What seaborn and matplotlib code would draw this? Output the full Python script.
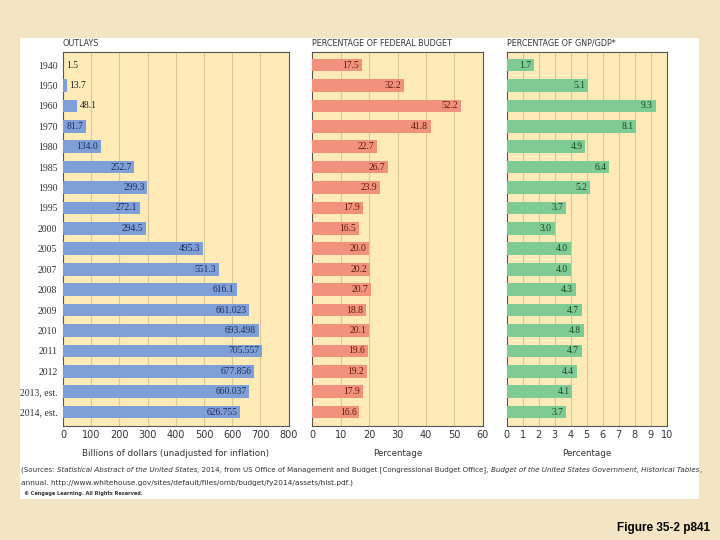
import matplotlib
matplotlib.use("Agg")
import matplotlib.pyplot as plt
import numpy as np
import pandas as pd
import seaborn as sns

years = ["1940", "1950", "1960", "1970", "1980", "1985", "1990", "1995", "2000",
         "2005", "2007", "2008", "2009", "2010", "2011", "2012", "2013, est.", "2014, est."]
outlays = [1.5, 13.7, 48.1, 81.7, 134.0, 252.7, 299.3, 272.1, 294.5,
           495.3, 551.3, 616.1, 661.023, 693.498, 705.557, 677.856, 660.037, 626.755]
outlay_labels = ["1.5", "13.7", "48.1", "81.7", "134.0", "252.7", "299.3", "272.1", "294.5",
                 "495.3", "551.3", "616.1", "661.023", "693.498", "705.557", "677.856", "660.037", "626.755"]
pct_budget = [17.5, 32.2, 52.2, 41.8, 22.7, 26.7, 23.9, 17.9, 16.5,
              20.0, 20.2, 20.7, 18.8, 20.1, 19.6, 19.2, 17.9, 16.6]
pct_gdp = [1.7, 5.1, 9.3, 8.1, 4.9, 6.4, 5.2, 3.7, 3.0,
           4.0, 4.0, 4.3, 4.7, 4.8, 4.7, 4.4, 4.1, 3.7]

df = pd.DataFrame({"year": years, "outlays": outlays,
                   "budget": pct_budget, "gdp": pct_gdp})

sns.set_style("white")
plt.rcParams["font.family"] = ["DejaVu Sans"]

BG = "#F3E4C4"
PANEL = "#FFEBB7"
GRID = "#D9C79C"

fig = plt.figure(figsize=(7.2, 5.4), dpi=100)
fig.patch.set_facecolor(BG)

# white card behind the charts
card = plt.Rectangle((20 / 720, 1 - 499 / 540), 679 / 720, 461 / 540,
                     transform=fig.transFigure, facecolor="white", edgecolor="none", zorder=-5)
fig.patches.append(card)

bottom, height = 114 / 540, 374 / 540
ax1 = fig.add_axes([63 / 720, bottom, 225.7 / 720, height])
ax2 = fig.add_axes([312.3 / 720, bottom, 170.4 / 720, height])
ax3 = fig.add_axes([506.7 / 720, bottom, 160 / 720, height])

panels = [
    (ax1, "outlays", outlay_labels, "#7F9FD8", "#1E2D58", 800, 100, "OUTLAYS",
     "Billions of dollars (unadjusted for inflation)", 60),
    (ax2, "budget", [f"{v:.1f}" for v in pct_budget], "#F2927C", "#5A1A0E", 60, 10,
     "PERCENTAGE OF FEDERAL BUDGET", "Percentage", 0),
    (ax3, "gdp", [f"{v:.1f}" for v in pct_gdp], "#7FCB96", "#1C4426", 10, 1,
     "PERCENTAGE OF GNP/GDP*", "Percentage", 0),
]

for ax, col, labels, color, tcol, xmax, step, title, xlabel, inside_min in panels:
    ax.set_facecolor(PANEL)
    sns.barplot(data=df, y="year", x=col, color=color, orient="h", width=0.62,
                saturation=1, ax=ax, zorder=3, edgecolor="none", linewidth=0)
    ax.set_xlim(0, xmax)
    ax.set_ylim(17.68, -0.64)
    ax.set_xticks(np.arange(0, xmax + step / 2, step))
    for gx in np.arange(step, xmax, step):
        ax.axvline(gx, color=GRID, lw=0.8, zorder=1)
    for sp in ax.spines.values():
        sp.set_color("#555555")
        sp.set_linewidth(0.8)
    ax.tick_params(axis="x", length=0, labelsize=7, colors="#333333", pad=3)
    ax.tick_params(axis="y", length=2, labelsize=7, colors="#333333", pad=2)
    ax.set_xlabel(xlabel, fontsize=6.3, color="#333333", labelpad=6)
    ax.set_ylabel("")
    ax.text(0, 1.012, title, transform=ax.transAxes, fontsize=5.8,
            color="#333333", ha="left", va="bottom")
    values = df[col].tolist()
    for i, (v, lab) in enumerate(zip(values, labels)):
        if v > inside_min:
            ax.annotate(lab, (v, i), xytext=(-2, 0), textcoords="offset points",
                        ha="right", va="center", fontsize=6.9, color=tcol,
                        family="Liberation Serif", zorder=4)
        else:
            ax.annotate(lab, (v, i), xytext=(2, 0), textcoords="offset points",
                        ha="left", va="center", fontsize=6.9, color="#222222",
                        family="Liberation Serif", zorder=4)

for lab in ax1.get_yticklabels():
    lab.set_family("Liberation Serif")
ax2.set_yticklabels([])
ax3.set_yticklabels([])
ax2.tick_params(axis="y", length=0)
ax3.tick_params(axis="y", length=0)

# source note, italic for publication titles
src_line1 = [
    ("(Sources: ", "normal"),
    ("Statistical Abstract of the United States", "italic"),
    (", 2014, from US Office of Management and Budget [Congressional Budget Office], ", "normal"),
    ("Budget of the United States Government, Historical Tables", "italic"),
    (",", "normal"),
]
fs = 5.1
t = fig.text(21 / 720, 1 - 473 / 540, src_line1[0][0], fontsize=fs,
             style=src_line1[0][1], color="#333333", va="bottom")
for txt, st in src_line1[1:]:
    t = ax1.annotate(txt, xy=(1, 0), xycoords=t, fontsize=fs, style=st,
                     color="#333333", va="bottom", ha="left", annotation_clip=False)
fig.text(21 / 720, 1 - 486 / 540,
         "annual. http://www.whitehouse.gov/sites/default/files/omb/budget/fy2014/assets/hist.pdf.)",
         fontsize=fs + 0.2, color="#333333", va="bottom")
fig.text(24 / 720, 1 - 495 / 540, "© Cengage Learning. All Rights Reserved.",
         fontsize=3.6, color="#333333", va="baseline", weight="bold")

fig.text(710 / 720, 1 - 531 / 540, "Figure 35-2 p841", fontsize=8.5,
         weight="bold", family="Liberation Sans", ha="right", va="baseline", color="black")

fig.savefig("out.png", dpi=100, facecolor=BG)
